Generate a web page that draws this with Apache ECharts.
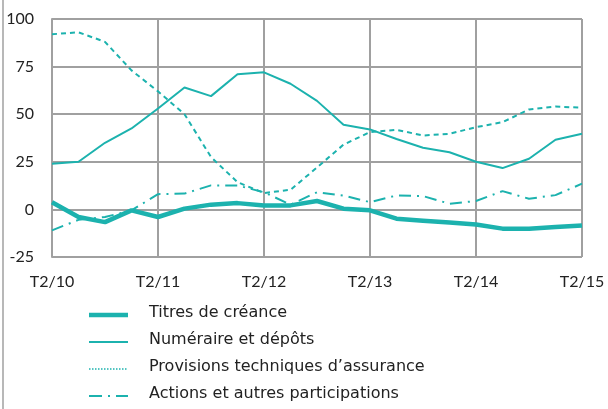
<!DOCTYPE html>
<html>
<head>
<meta charset="utf-8">
<script src="https://cdn.jsdelivr.net/npm/echarts@6/dist/echarts.min.js"></script>
<style>html,body{margin:0;padding:0;background:#fff}#c{width:608px;height:409px}</style>
</head>
<body>
<div id="c"></div>
<script>
const categories = ['T2/10','T3/10','T4/10','T1/11','T2/11','T3/11','T4/11','T1/12','T2/12','T3/12','T4/12','T1/13','T2/13','T3/13','T4/13','T1/14','T2/14','T3/14','T4/14','T1/15','T2/15'];
const titres = [3.8, -4, -6.7, -0.5, -4, 0.4, 2.5, 3.3, 2.1, 2.1, 4.4, 0.4, -0.5, -4.9, -5.9, -6.9, -7.9, -10.1, -10.1, -9.2, -8.4];
const numeraire = [24, 25, 35, 42.5, 53, 64, 59.5, 71, 72, 66, 57, 44.5, 42, 37, 32.4, 30, 25, 21.7, 26.6, 36.6, 39.7];
const provisions = [92, 93, 88, 73, 62, 50, 27.5, 14.3, 8.6, 10.3, 22, 34, 40.6, 41.8, 38.8, 39.7, 43.2, 45.8, 52.5, 54, 53.4];
const actions = [-11, -5.5, -4, -0.5, 8, 8.3, 12.6, 12.6, 9, 2.5, 9, 7.3, 3.8, 7.3, 7, 3, 4.4, 9.6, 5.6, 7.5, 13.5];
const names = ['Titres de créance','Numéraire et dépôts','Provisions techniques d\u2019assurance','Actions et autres participations'];

const teal = '#1cb2ae';
const gridCol = '#a0a0a0';
const chart = echarts.init(document.getElementById('c'), null, {renderer:'canvas'});
function mk(name, data, width, type){
  return {name, type:'line', data, symbol:'none', smooth:false, animation:false,
    lineStyle:{color:teal, width, type}, itemStyle:{color:teal}};
}
const legendStyles = [
  {w:4.5, dash:null},
  {w:2, dash:null},
  {w:1.5, dash:[1.5,1.5]},
  {w:2, dash:[13,6,2,6]}
];
const graphics = [{type:'line', shape:{x1:3, y1:0, x2:3, y2:409}, style:{stroke:gridCol, lineWidth:1.5}}];
names.forEach((n,i)=>{
  const y = 315 + 27*i;
  graphics.push({type:'line', shape:{x1:89, y1:y, x2:128, y2:y},
    style:{stroke:teal, lineWidth:legendStyles[i].w, lineDash:legendStyles[i].dash}});
  graphics.push({type:'text', left:149, top:y-10,
    style:{text:n, fill:'#222', font:'16px "DejaVu Sans"', textVerticalAlign:'top'}});
});
chart.setOption({
  animation:false,
  grid:{left:52, right:26, top:19, bottom:152, containLabel:false},
  xAxis:{
    type:'category', data:categories, boundaryGap:false,
    axisLine:{show:true, lineStyle:{color:gridCol, width:2}},
    axisTick:{show:false},
    axisLabel:{interval:3, margin:17, fontFamily:'Lato', fontSize:16, color:'#222'},
    splitLine:{show:true, interval:3, lineStyle:{color:gridCol, width:2}}
  },
  yAxis:{
    type:'value', min:-25, max:100, interval:25,
    axisLine:{show:true, lineStyle:{color:gridCol, width:2}},
    axisTick:{show:false},
    axisLabel:{margin:18, fontFamily:'Lato', fontSize:16, color:'#222'},
    splitLine:{show:true, lineStyle:{color:gridCol, width:2}}
  },
  graphic:graphics,
  series:[
    mk(names[2], provisions, 2, [5,4]),
    mk(names[3], actions, 2, [12,6,2,6]),
    mk(names[1], numeraire, 2, 'solid'),
    mk(names[0], titres, 4.5, 'solid')
  ]
});
</script>
</body>
</html>
